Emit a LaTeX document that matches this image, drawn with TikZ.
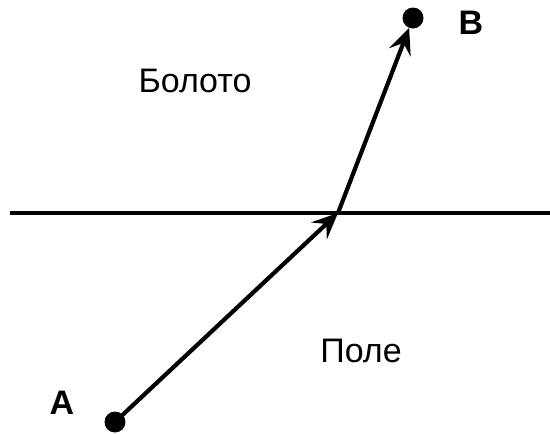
\documentclass[tikz,border=0pt]{standalone}
\usepackage{fontspec}
\setmainfont{Liberation Sans}
\usetikzlibrary{arrows.meta}
\begin{document}
\begin{tikzpicture}[x=1pt,y=-1pt,
  ln/.style={line width=4.2pt},
  arr/.style={ln,-{Stealth[length=26pt,width=23pt,inset=10pt]}},
  dot/.style={circle,fill=black,inner sep=0pt,minimum size=21pt},
  lbl/.style={font=\fontsize{34}{36}\selectfont},
  blbl/.style={font=\fontsize{34}{36}\selectfont\bfseries}]
\useasboundingbox (0,0) rectangle (550,434);
\coordinate (L) at (10,213);
\coordinate (R) at (550,213);
\coordinate (O) at (338,213);
\node[dot] (A) at (115,422) {};
\node[dot] (B) at (413,18) {};
\draw[ln] (L) -- (R);
\draw[arr] (A.center) -- (O);
\draw[arr] (O) -- (B);
\node[blbl] (la) at (62,403) {A};
\node[blbl] (lb) at (471,23) {B};
\node[lbl] (bol) at (195,81) {Болото};
\node[lbl] (pol) at (361,351) {Поле};
\end{tikzpicture}
\end{document}
